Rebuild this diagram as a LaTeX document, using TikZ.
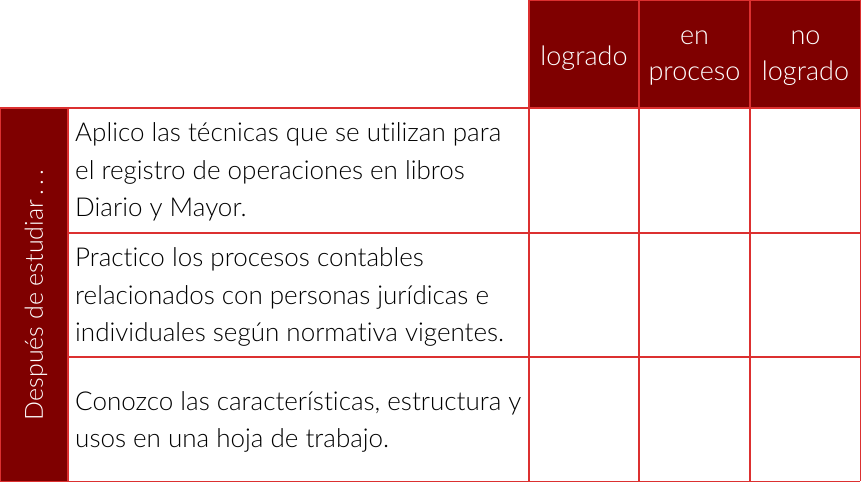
\documentclass[tikz,border=0pt]{standalone}
\usepackage{fontspec}
\setmainfont{Lato Light}[Ligatures={CommonOff}]
\definecolor{darkred}{HTML}{7F0000}
\definecolor{gridred}{HTML}{DC3030}
\begin{document}
\begin{tikzpicture}[x=1pt,y=-1pt,
  hdr/.style={fill=darkred},
  grid/.style={draw=gridred,line width=1.2pt},
  htext/.style={text=white,font=\fontsize{27}{36}\selectfont,align=center,inner sep=0},
  ctext/.style={text=black,font=\fontsize{26}{37.5}\selectfont,align=left,anchor=west,inner sep=0}]
\useasboundingbox (0,0) rectangle (861,482);
\fill[white] (0,0) rectangle (861,482);
% header fills
\fill[hdr] (529,0) rectangle (861,108);
\fill[hdr] (0,108) rectangle (68,482);
% grid
\draw[grid] (529,0.6) -- (860.4,0.6);
\draw[grid] (529,0) -- (529,481.4);
\draw[grid] (639,0) -- (639,481.4);
\draw[grid] (750,0) -- (750,481.4);
\draw[grid] (860.4,0) -- (860.4,481.4);
\draw[grid] (0.6,108) -- (0.6,481.4);
\draw[grid] (68,108) -- (68,481.4);
\draw[grid] (0,108) -- (860.4,108);
\draw[grid] (68,233) -- (860.4,233);
\draw[grid] (68,357) -- (860.4,357);
\draw[grid] (0,481.4) -- (860.4,481.4);
% header texts
\node[htext] (h1) at (584,58) {logrado};
\node[htext] (h2) at (694.5,58) {en\\proceso};
\node[htext] (h3) at (805.5,58) {no\\logrado};
% side text
\node[htext,font=\fontsize{25}{30}\selectfont,rotate=90] (side) at (36,295) {Después de estudiar\,.\,.\,.};
% row texts
\node[ctext] (r1) at (75,172) {Aplico las técnicas que se utilizan para\\el registro de operaciones en libros\\Diario y Mayor.};
\node[ctext] (r2) at (75,297) {Practico los procesos contables\\relacionados con personas jurídicas e\\individuales según normativa vigentes.};
\node[ctext] (r3) at (75,422) {Conozco las características, estructura y\\usos en una hoja de trabajo.};
\end{tikzpicture}
\end{document}
